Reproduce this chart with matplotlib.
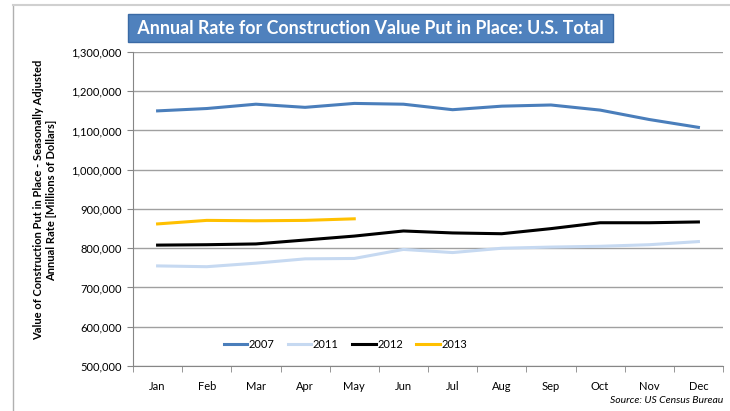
import numpy as np
import matplotlib.pyplot as plt
from matplotlib.ticker import FuncFormatter

months = ["Jan", "Feb", "Mar", "Apr", "May", "Jun", "Jul", "Aug", "Sep", "Oct", "Nov", "Dec"]
y2007 = [1150000, 1156000, 1167000, 1159000, 1169000, 1167000, 1153000, 1162000, 1165000, 1152000, 1128000, 1108000]
y2011 = [755000, 753000, 762000, 773000, 774000, 797000, 789000, 800000, 803000, 805000, 809000, 817000]
y2012 = [808000, 809000, 811000, 821000, 831000, 844000, 839000, 837000, 850000, 865000, 865000, 867000]
y2013 = [862000, 871000, 870000, 871000, 875000]

plt.rcParams['font.family'] = ['Lato', 'DejaVu Sans']

fig = plt.figure(figsize=(7.3, 4.11), dpi=100)
ax = fig.add_axes([133 / 730, 1 - 366 / 411, 590 / 730, 314 / 411])

x = np.arange(len(months))
ax.plot(x, y2007, color='#4a7ebb', linewidth=2.2, label='2007')
ax.plot(x, y2011, color='#c6d9f1', linewidth=2.2, label='2011')
ax.plot(x, y2012, color='black', linewidth=2.2, label='2012')
ax.plot(x[:len(y2013)], y2013, color='#ffc000', linewidth=2.2, label='2013')

ax.set_xlim(-0.5, 11.5)
ax.set_ylim(500000, 1300000)
ax.set_yticks(np.arange(500000, 1300001, 100000))
ax.yaxis.set_major_formatter(FuncFormatter(lambda v, p: f"{int(v):,}"))
ax.set_xticks(x)
ax.set_xticklabels(months)
ax.set_xticks(np.arange(-0.5, 12, 1), minor=True)
ax.tick_params(axis='x', which='major', length=0, pad=11, labelsize=8)
ax.tick_params(axis='x', which='minor', length=4, color='#868686', direction='out')
ax.tick_params(axis='y', length=4, color='#868686', labelsize=8, pad=4)
ax.grid(axis='y', color='#a0a0a0', linewidth=1)
ax.set_axisbelow(True)
for s in ['top', 'right']:
    ax.spines[s].set_visible(False)
for s in ['left', 'bottom']:
    ax.spines[s].set_color('#868686')

ax.legend(loc='lower center', bbox_to_anchor=(0.36, 0.02), ncol=4, frameon=False,
          fontsize=8, handlelength=2.1, handletextpad=0.15, columnspacing=1.2)

fig.text(45 / 730, 1 - 200 / 411, "Value of Construction Put in Place - Seasonally Adjusted\nAnnual Rate [Millions of Dollars]",
         rotation=90, ha='center', va='center', fontsize=8, fontweight='bold', linespacing=1.3)

fig.text(133 / 730, 1 - 28 / 411, " Annual Rate for Construction Value Put in Place: U.S. Total ",
         ha='left', va='center', fontsize=12.8, fontweight='bold', color='white',
         bbox=dict(boxstyle='square,pad=0.3', facecolor='#4f81bd', edgecolor='#3a6aa5'))

fig.text(723 / 730, 1 - 400 / 411, "Source: US Census Bureau", ha='right', va='center',
         fontsize=7.5, style='italic')

fig.add_artist(plt.Line2D([13 / 730, 13 / 730], [0, 1 - 5 / 411], color='#b0b0b0', linewidth=1))
fig.add_artist(plt.Line2D([13 / 730, 1], [1 - 5 / 411, 1 - 5 / 411], color='#d0d0d0', linewidth=1.5))

fig.savefig("out.png", dpi=100)
